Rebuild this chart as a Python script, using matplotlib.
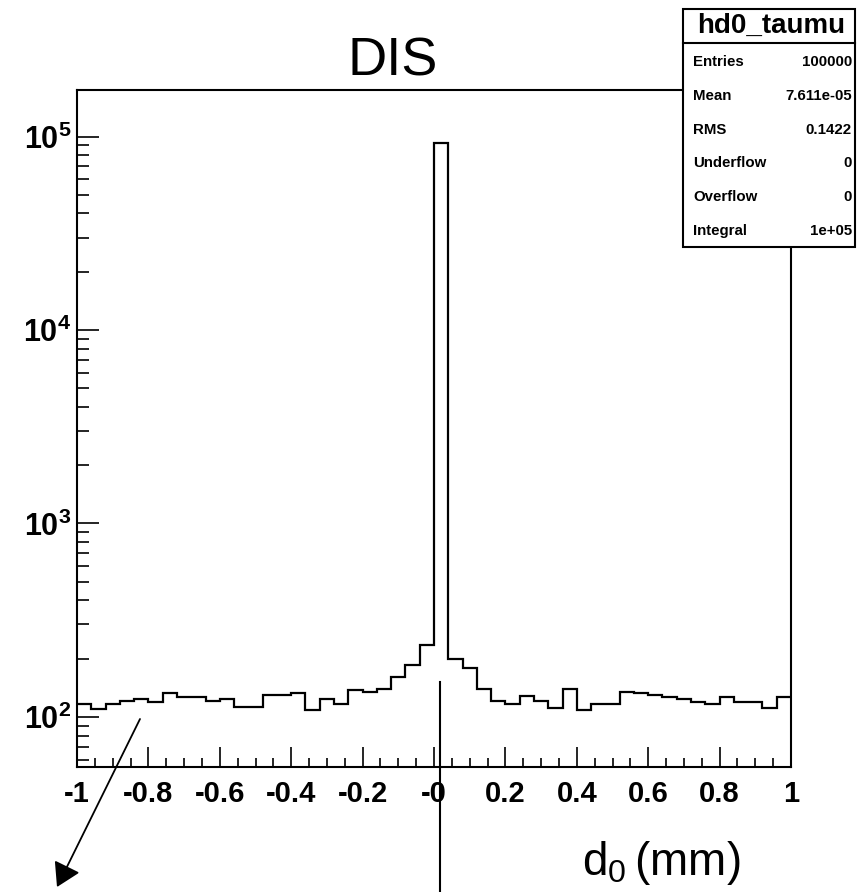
import numpy as np
import matplotlib.pyplot as plt
from matplotlib.lines import Line2D
from matplotlib.patches import Rectangle
from matplotlib.ticker import LogLocator, NullFormatter

# histogram data (50 bins from -1 to 1 mm)
bin_edges = np.linspace(-1, 1, 51)
counts = [116, 110, 116, 121, 123, 119, 132, 126, 126, 121,
          123, 113, 113, 129, 129, 132, 108, 123, 116, 137,
          135, 140, 160, 186, 235, 93000, 198, 178, 140, 121,
          116, 128, 121, 111, 140, 108, 116, 116, 135, 132,
          129, 126, 123, 119, 116, 126, 119, 119, 111, 126]

xtick_pos = [-1, -0.8, -0.6, -0.4, -0.2, 0, 0.2, 0.4, 0.6, 0.8, 1]
xtick_labels = ['-1', '-0.8', '-0.6', '-0.4', '-0.2', '-0', '0.2', '0.4', '0.6', '0.8', '1']
ytick_pos = [1e2, 1e3, 1e4, 1e5]
ytick_labels = [r'$\mathbf{10^{2}}$', r'$\mathbf{10^{3}}$', r'$\mathbf{10^{4}}$', r'$\mathbf{10^{5}}$']

stat_names = ['Entries', 'Mean', 'RMS', 'Underflow', 'Overflow', 'Integral']
stat_values = ['100000', '7.611e-05', '0.1422', '0', '0', '1e+05']

plt.rcParams['font.family'] = ['Liberation Sans', 'DejaVu Sans']
plt.rcParams['mathtext.fontset'] = 'custom'
plt.rcParams['mathtext.rm'] = 'Liberation Sans'
plt.rcParams['mathtext.bf'] = 'Liberation Sans:bold'

W, H = 857, 892
fig = plt.figure(figsize=(W / 100, H / 100), dpi=100)
ax = fig.add_axes([77 / W, 1 - 767 / H, (791 - 77) / W, (767 - 90) / H])

ax.stairs(counts, bin_edges, baseline=None, color='black', lw=1.6)
ax.set_yscale('log')
ax.set_xlim(-1, 1)
ax.set_ylim(55, 1.74e5)

# x axis ticks
ax.set_xticks(xtick_pos, xtick_labels, fontsize=21, fontweight='bold')
ax.set_xticks(np.arange(-1, 1.001, 0.05), minor=True)
ax.tick_params(axis='x', which='major', direction='in', length=14.5, width=1.2, pad=9)
ax.tick_params(axis='x', which='minor', direction='in', length=6.5, width=1.2)

# y axis ticks
ax.set_yticks(ytick_pos, ytick_labels)
ax.yaxis.set_minor_locator(LogLocator(base=10, subs=np.arange(2, 10)))
ax.yaxis.set_minor_formatter(NullFormatter())
ax.tick_params(axis='y', which='major', direction='in', length=16, width=1.2, pad=4, labelsize=22)
ax.tick_params(axis='y', which='minor', direction='in', length=8.5, width=1.2)

for sp in ax.spines.values():
    sp.set_linewidth(1.5)

# title and axis label
fig.text(393 / W, 1 - 76 / H, 'DIS', fontsize=39, ha='center', va='baseline')
fig.text(582 / W, 1 - 875 / H, r'$\mathregular{d_0\,(mm)}$', fontsize=33, ha='left', va='baseline')

# stats box
fig.add_artist(Rectangle((683 / W, 1 - 247 / H), (855 - 683) / W, (247 - 9) / H,
                         transform=fig.transFigure, fc='white', ec='black', lw=1.5, zorder=5))
fig.add_artist(Line2D([683 / W, 855 / W], [1 - 43 / H, 1 - 43 / H], color='black', lw=1.5, zorder=6))
fig.text(771 / W, 1 - 33 / H, 'hd0_taumu', fontsize=20, fontweight='bold',
         ha='center', va='baseline', zorder=7)
for i, (name, val) in enumerate(zip(stat_names, stat_values)):
    yb = 1 - (66 + 33.8 * i) / H
    fig.text(693 / W, yb, name, fontsize=10.8, fontweight='bold', ha='left', va='baseline', zorder=7)
    fig.text(852 / W, yb, val, fontsize=10.8, fontweight='bold', ha='right', va='baseline', zorder=7)

# annotation lines
fig.add_artist(Line2D([440 / W, 440 / W], [0, 1 - 681.7 / H], color='black', lw=1.5))
ax.annotate('', xy=(57, 5), xycoords='figure pixels', xytext=(140, 173), textcoords='figure pixels',
            arrowprops=dict(arrowstyle='-|>,head_length=1.0,head_width=0.6', mutation_scale=14.5,
                            color='black', lw=1.3, shrinkA=0, shrinkB=0),
            annotation_clip=False)

fig.savefig('out.png', dpi=100)
